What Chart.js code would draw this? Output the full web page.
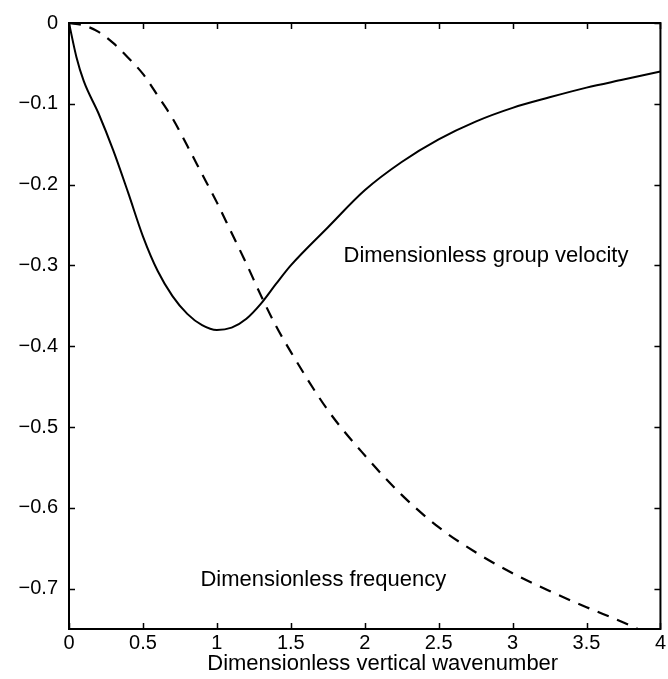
<!DOCTYPE html>
<html>
<head>
<meta charset="utf-8">
<script src="https://cdn.jsdelivr.net/npm/chart.js@4/dist/chart.umd.min.js"></script>
<style>
  html, body { margin: 0; padding: 0; background: #fff; }
  #wrap { width: 668px; height: 679px; }
</style>
</head>
<body>
<div id="wrap"><canvas id="c" width="668" height="679"></canvas></div>
<script>
// Dimensionless vertical wavenumber samples and series values
const groupX = [0, 0.05, 0.1, 0.2, 0.3, 0.4, 0.5, 0.6, 0.7, 0.8, 0.9, 1.0, 1.1, 1.2, 1.3, 1.4, 1.5, 1.75, 2.0, 2.25, 2.5, 2.75, 3.0, 3.25, 3.5, 3.75, 4.0];
const groupVelocity = [0, -0.042, -0.072, -0.112, -0.158, -0.21, -0.264, -0.307, -0.338, -0.36, -0.374, -0.38, -0.377, -0.366, -0.347, -0.323, -0.300, -0.253, -0.207, -0.172, -0.144, -0.122, -0.105, -0.092, -0.080, -0.070, -0.060];

const freqX = [0, 0.1, 0.2, 0.3, 0.4, 0.5, 0.6, 0.7, 0.8, 0.9, 1.0, 1.1, 1.2, 1.3, 1.4, 1.5, 1.75, 2.0, 2.25, 2.5, 2.75, 3.0, 3.25, 3.5, 3.75, 4.0];
const frequency = [0, -0.003, -0.011, -0.025, -0.043, -0.063, -0.09, -0.118, -0.152, -0.187, -0.222, -0.26, -0.298, -0.338, -0.375, -0.407, -0.479, -0.535, -0.584, -0.624, -0.655, -0.681, -0.703, -0.723, -0.742, -0.763];

const xTicks = [0, 0.5, 1, 1.5, 2, 2.5, 3, 3.5, 4];
const xTickLabels = ['0', '0.5', '1', '1.5', '2', '2.5', '3', '3.5', '4'];
const yTicks = [0, -0.1, -0.2, -0.3, -0.4, -0.5, -0.6, -0.7];
const yTickLabels = ['0', '\u22120.1', '\u22120.2', '\u22120.3', '\u22120.4', '\u22120.5', '\u22120.6', '\u22120.7'];

const xTitle = 'Dimensionless vertical wavenumber';
const annotations = [
  { text: 'Dimensionless group velocity', x: 2.82, y: -0.288 },
  { text: 'Dimensionless frequency', x: 1.72, y: -0.689 }
];

const FONT = '"Liberation Sans", Arial, Helvetica, sans-serif';

const frameAndText = {
  id: 'frameAndText',
  afterDatasetsDraw(chart) {
    const ctx = chart.ctx;
    const a = chart.chartArea;
    const xs = chart.scales.x, ys = chart.scales.y;
    ctx.save();
    ctx.strokeStyle = '#000';
    ctx.lineWidth = 2;
    ctx.strokeRect(a.left, a.top, a.right - a.left, a.bottom - a.top);
    ctx.lineWidth = 1.5;
    const tl = 6;
    ctx.beginPath();
    xTicks.forEach(v => {
      const px = Math.round(xs.getPixelForValue(v)) + 0.5;
      ctx.moveTo(px, a.bottom); ctx.lineTo(px, a.bottom - tl);
      ctx.moveTo(px, a.top); ctx.lineTo(px, a.top + tl);
    });
    yTicks.forEach(v => {
      const py = Math.round(ys.getPixelForValue(v)) + 0.5;
      ctx.moveTo(a.left, py); ctx.lineTo(a.left + tl, py);
      ctx.moveTo(a.right, py); ctx.lineTo(a.right - tl, py);
    });
    ctx.stroke();
    ctx.fillStyle = '#000';
    ctx.font = '22px ' + FONT;
    ctx.textAlign = 'center';
    ctx.textBaseline = 'middle';
    annotations.forEach(t => {
      ctx.fillText(t.text, xs.getPixelForValue(t.x), ys.getPixelForValue(t.y));
    });
    // axis title (slightly right of the axis centre, as in the figure)
    ctx.fillText(xTitle, (a.left + a.right) / 2 + 18, a.bottom + 35);
    ctx.restore();
  }
};

new Chart(document.getElementById('c'), {
  type: 'scatter',
  data: {
    datasets: [
      {
        label: 'Dimensionless group velocity',
        data: groupX.map((x, i) => ({ x: x, y: groupVelocity[i] })),
        showLine: true,
        borderColor: '#000',
        borderWidth: 2,
        pointRadius: 0,
        cubicInterpolationMode: 'monotone',
        fill: false
      },
      {
        label: 'Dimensionless frequency',
        data: freqX.map((x, i) => ({ x: x, y: frequency[i] })),
        showLine: true,
        borderColor: '#000',
        borderWidth: 2.2,
        borderDash: [12, 9],
        pointRadius: 0,
        cubicInterpolationMode: 'monotone',
        fill: false
      }
    ]
  },
  options: {
    responsive: false,
    animation: false,
    devicePixelRatio: 1,
    layout: { padding: { top: 22, right: 6, left: 0, bottom: 0 } },
    plugins: { legend: { display: false }, tooltip: { enabled: false } },
    scales: {
      x: {
        type: 'linear',
        min: 0, max: 4,
        afterBuildTicks: s => { s.ticks = xTicks.map(v => ({ value: v })); },
        afterFit: s => { s.height = 50; },
        grid: { display: false, drawTicks: false },
        border: { display: false },
        ticks: {
          color: '#000',
          padding: 2,
          maxRotation: 0,
          autoSkip: false,
          font: { family: FONT, size: 20 },
          callback: v => { const i = xTicks.indexOf(v); return i >= 0 ? xTickLabels[i] : ''; }
        },
        title: { display: false }
      },
      y: {
        type: 'linear',
        min: -0.75, max: 0,
        afterBuildTicks: s => { s.ticks = yTicks.map(v => ({ value: v })); },
        afterFit: s => { s.width = 69; },
        grid: { display: false, drawTicks: false },
        border: { display: false },
        ticks: {
          color: '#000',
          padding: 11,
          autoSkip: false,
          font: { family: FONT, size: 20 },
          callback: v => { const i = yTicks.indexOf(v); return i >= 0 ? yTickLabels[i] : ''; }
        }
      }
    }
  },
  plugins: [frameAndText]
});
</script>
</body>
</html>
